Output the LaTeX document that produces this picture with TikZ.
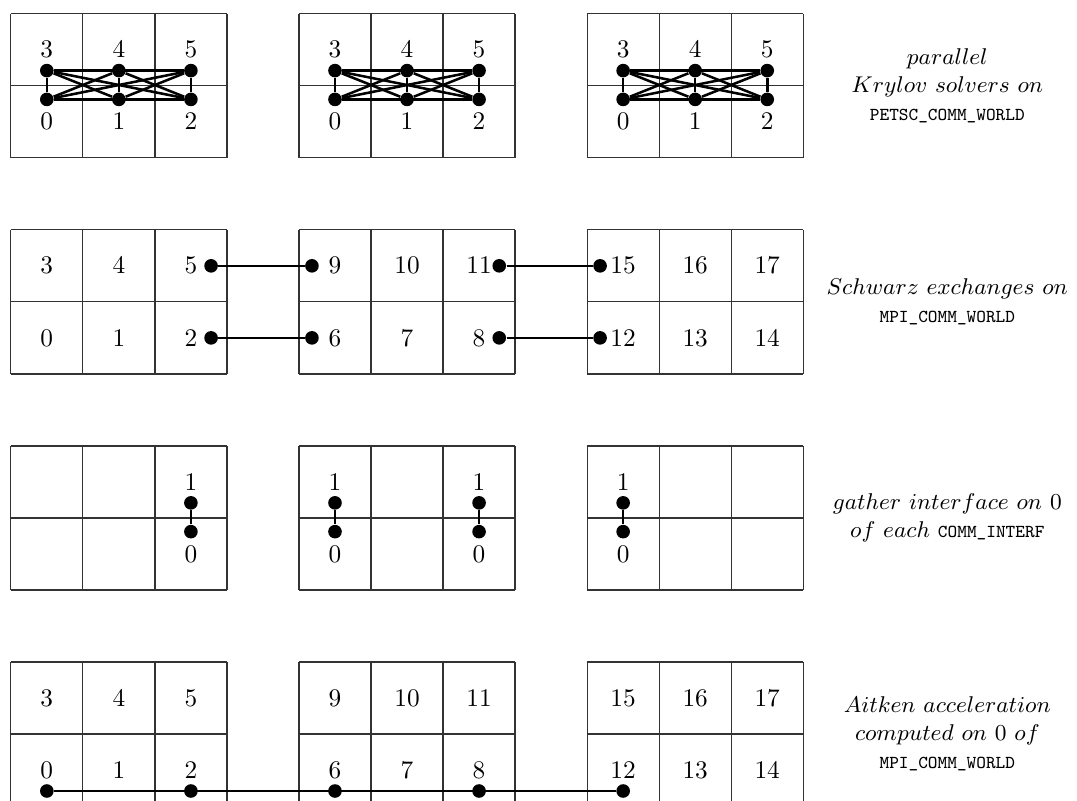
\documentclass[tikz,border=0pt]{standalone}
\usepackage{amsmath}
\usepackage{tikz}
\newcommand\commname[1]{{\fontsize{7.2}{9}\selectfont\texttt{#1}}}

\begin{document}
\begin{tikzpicture}[
    cellline/.style={draw=black!80, line width=0.5pt},
    rk/.style={circle, fill=black, inner sep=1.9pt},
    ed/.style={-, line width=1pt},
    note/.style={align=center, font=\small}
  ]
  \clip (-0.15,-10.92) rectangle (14.8,0.19);
  % four rows of three 3x2 grids
  \foreach \r in {0,...,3}
    \foreach \g in {0,1,2}
      \draw[cellline, shift={(4*\g,-3*\r)}] (0,0) grid (3,-2);

  % row 1: all-to-all inside each grid
  \foreach \g in {0,1,2} {
    \foreach \i in {0,1,2} {
      \pgfmathtruncatemacro\up{\i+3}
      \node (n\g\up) at (4*\g+\i+0.5,-0.5) {$\up$};
      \node (n\g\i)  at (4*\g+\i+0.5,-1.5) {$\i$};
      \node[rk] (k\g\up) at (4*\g+\i+0.5,-0.79) {};
      \node[rk] (k\g\i)  at (4*\g+\i+0.5,-1.19) {};
    }
    \foreach \a in {0,...,4} {
      \pgfmathtruncatemacro\nx{\a+1}
      \foreach \b in {\nx,...,5}
        \draw[ed] (k\g\a) -- (k\g\b);
    }
  }
  \node[note] (t1) at (13,-1)
    {$parallel$\\ $Krylov\ solvers\ on$\\ \commname{PETSC\_COMM\_WORLD}};

  % row 2: neighbour exchanges
  \foreach \g in {0,1,2}
    \foreach \i in {0,1,2} {
      \pgfmathtruncatemacro\lo{6*\g+\i}
      \pgfmathtruncatemacro\hi{6*\g+\i+3}
      \node (s\hi) at (4*\g+\i+0.5,-3.5) {$\hi$};
      \node (s\lo) at (4*\g+\i+0.5,-4.5) {$\lo$};
    }
  \foreach \a/\b in {5/9,2/6,11/15,8/12} {
    \node[rk] (d\a) at ([xshift=0.28cm]s\a.center) {};
    \node[rk] (d\b) at ([xshift=-0.32cm]s\b.center) {};
    \draw[ed] (d\a) -- (d\b);
  }
  \node[note] (t2) at (13,-4)
    {$Schwarz\ exchanges\ on$\\ \commname{MPI\_COMM\_WORLD}};

  % row 3: interface gathers
  \foreach \x [count=\c] in {2.5,4.5,6.5,8.5} {
    \node (ga\c) at (\x,-6.5) {$1$};
    \node (gb\c) at (\x,-7.5) {$0$};
    \node[rk] (u\c) at (\x,-6.79) {};
    \node[rk] (v\c) at (\x,-7.19) {};
    \draw[ed] (u\c) -- (v\c);
  }
  \node[note] (t3) at (13,-7)
    {$gather\ interface\ on\ 0$\\ $of\ each$ \commname{COMM\_INTERF}};

  % row 4: Aitken on rank 0
  \foreach \g in {0,1,2}
    \foreach \i in {0,1,2} {
      \pgfmathtruncatemacro\lo{6*\g+\i}
      \pgfmathtruncatemacro\hi{6*\g+\i+3}
      \node (w\hi) at (4*\g+\i+0.5,-9.5) {$\hi$};
      \node (w\lo) at (4*\g+\i+0.5,-10.5) {$\lo$};
    }
  \foreach \a in {0,2,6,8,12}
    \node[rk] (a\a) at ([yshift=-0.29cm]w\a.center) {};
  \draw[ed] (a0) -- (a12);
  \node[note] (t4) at (13,-10)
    {$Aitken\ acceleration$\\ $computed\ on\ 0\ of$\\ \commname{MPI\_COMM\_WORLD}};
\end{tikzpicture}
\end{document}
